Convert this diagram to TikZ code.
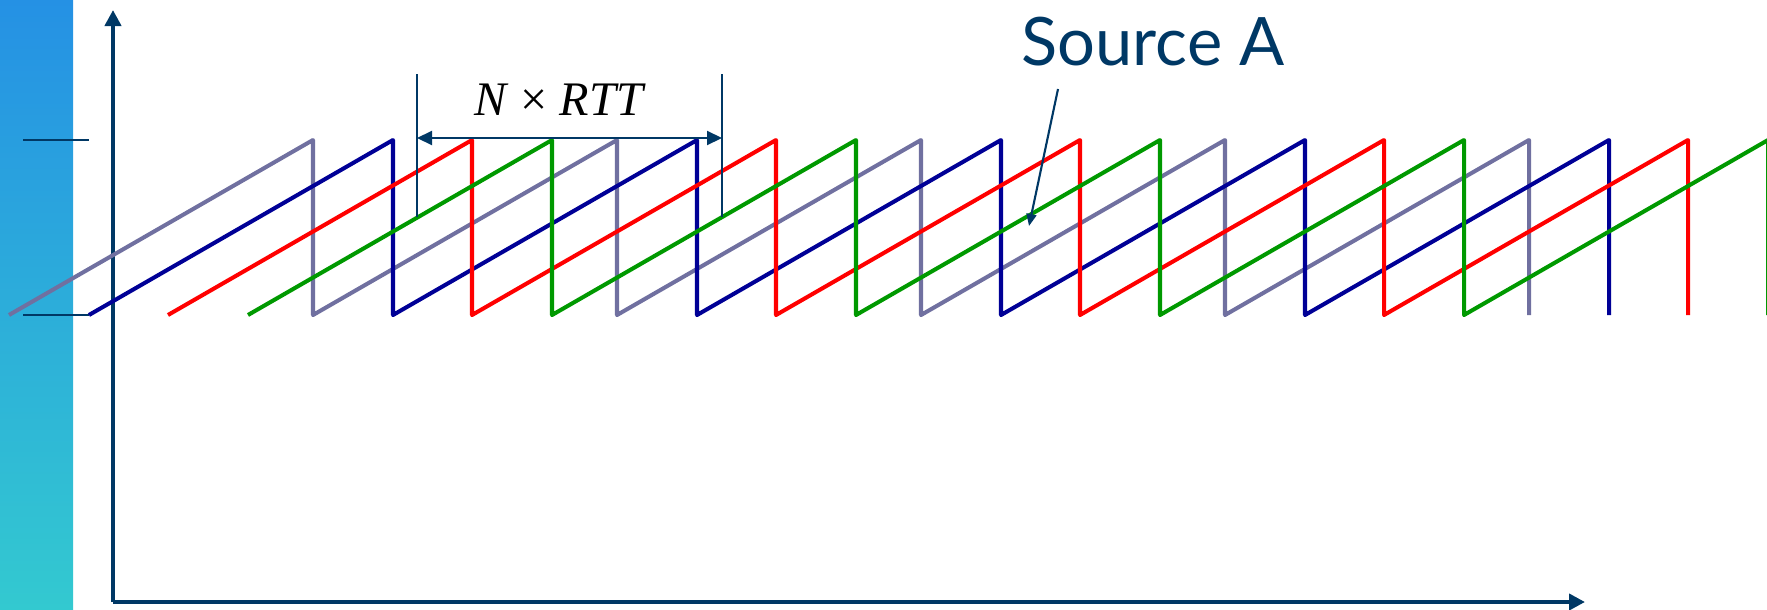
\documentclass[tikz,border=0pt]{standalone}
\usepackage{fontspec}
\setmainfont{Liberation Serif}
\newfontfamily\handfont{Lato}
\usetikzlibrary{arrows.meta,positioning}

\definecolor{navy}{RGB}{0,56,101}
\definecolor{flowgray}{RGB}{112,112,160}
\definecolor{flowblue}{RGB}{0,0,150}
\definecolor{flowred}{RGB}{255,0,0}
\definecolor{flowgreen}{RGB}{0,153,0}
\definecolor{bandtop}{RGB}{37,145,228}
\definecolor{bandbot}{RGB}{51,201,208}

\begin{document}
\begin{tikzpicture}[
        x=0.01cm, y=-0.01cm,
        axis/.style={line width=1.2pt, draw=navy, -{Triangle[length=0.16cm, width=0.16cm]}},
        tick/.style={line width=0.6pt, draw=navy},
        flow/.style={line width=1.15pt, line join=round},
        marker/.style={line width=0.6pt, draw=navy},
        span/.style={line width=0.6pt, draw=navy, {Triangle[length=0.15cm, width=0.14cm]}-{Triangle[length=0.15cm, width=0.14cm]}},
        pointer/.style={line width=0.6pt, draw=navy, -{Triangle[length=0.12cm, width=0.1cm]}},
    ]
    \useasboundingbox (0,0) rectangle (1767,609);

    % Band
    \shade[top color=bandtop, bottom color=bandbot] (0,0) rectangle (73,609);

    % Axes
    \coordinate (origin) at (113,602);
    \coordinate (ytop) at (113,10);
    \coordinate (xend) at (1585,602);
    \draw[axis] (origin) -- (ytop);
    \draw[axis] (origin) -- (xend);

    % Ticks
    \coordinate (hi) at (23,140);
    \coordinate (hiend) at (89,140);
    \coordinate (lo) at (23,315);
    \coordinate (loend) at (89,315);
    \draw[tick] (hi) -- (hiend);
    \draw[tick] (lo) -- (loend);

    % Windows
    \draw[flow, flowgray] (9,315) -- (313,140) -- (313,315) -- (617,140) -- (617,315) -- (921,140) -- (921,315)
        -- (1225,140) -- (1225,315) -- (1529,140) -- (1529,315);
    \draw[flow, flowblue] (89,315) -- (393,140) -- (393,315) -- (697,140) -- (697,315) -- (1001,140) -- (1001,315)
        -- (1305,140) -- (1305,315) -- (1609,140) -- (1609,315);
    \draw[flow, flowred] (168,315) -- (472,140) -- (472,315) -- (776,140) -- (776,315) -- (1080,140) -- (1080,315)
        -- (1384,140) -- (1384,315) -- (1688,140) -- (1688,315);
    \draw[flow, flowgreen] (248,315) -- (552,140) -- (552,315) -- (856,140) -- (856,315) -- (1160,140) -- (1160,315)
        -- (1464,140) -- (1464,315) -- (1768,140) -- (1768,315);

    % N x RTT
    \coordinate (barL) at (417,74);
    \coordinate (barLb) at (417,217);
    \coordinate (barR) at (722,74);
    \coordinate (barRb) at (722,217);
    \coordinate (spanL) at (417,138);
    \coordinate (spanR) at (722,138);
    \draw[marker] (barL) -- (barLb);
    \draw[marker] (barR) -- (barRb);
    \draw[span] (spanL) -- (spanR);
    \node[anchor=base, inner sep=0pt, font=\fontsize{13.7}{16}\selectfont] (nrtt) at (560,115) {\textit{N} × \textit{RTT}};

    % Source A
    \node[anchor=base, inner sep=0pt, text=navy, font=\handfont\fontsize{19}{23}\selectfont] (srcA) at (1153,65) {Source A};
    \coordinate (ptr) at (1058,89);
    \coordinate (ptrtip) at (1029,226);
    \draw[pointer] (ptr) -- (ptrtip);

\end{tikzpicture}
\end{document}
